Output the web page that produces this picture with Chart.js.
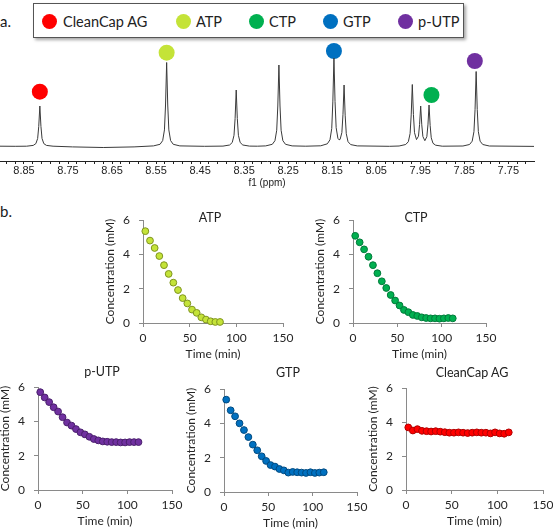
<!DOCTYPE html>
<html>
<head>
<meta charset="utf-8">
<script src="https://cdn.jsdelivr.net/npm/chart.js@4.4.0/dist/chart.umd.min.js"></script>
<style>
  html, body { margin: 0; padding: 0; background: #fff; }
  #fig { position: relative; width: 553px; height: 530px; overflow: hidden; font-family: 'Lato', sans-serif; color: #1a1a1a; }
  #fig canvas { position: absolute; }
  .lab { position: absolute; font-size: 15px; line-height: 1; }
  .ptitle { position: absolute; font-size: 12.5px; line-height: 1; transform: translate(-50%, -50%); white-space: nowrap; color: #222; }
  #legend { position: absolute; left: 33px; top: 3px; width: 429px; height: 33px; border: 1px solid #555; background: #fff; box-shadow: 2px 2px 3px rgba(0,0,0,0.35); }
  #legend .dot { position: absolute; width: 15px; height: 15px; border-radius: 50%; top: 10px; }
  #legend .txt { position: absolute; top: 10px; font-size: 14.5px; line-height: 15px; white-space: nowrap; color: #222; }
</style>
</head>
<body>
<div id="fig">
  <div class="lab" style="left:0px; top:14px;">a.</div>
  <div id="legend"></div>
  <canvas id="nmr" width="553" height="161" style="left:0px; top:30px;"></canvas>
  <div class="lab" style="left:0px; top:204px;">b.</div>
</div>

<script>
// ── DATA ──
const speciesNames  = ['CleanCap AG', 'ATP', 'CTP', 'GTP', 'p-UTP'];
const speciesColors = ['#ff0000', '#c4e338', '#00b050', '#0070c0', '#7030a0'];
const speciesEdges  = ['#b00000', '#7f9420', '#007a3a', '#004a80', '#4a1f6c'];

// 1H NMR spectrum (a.u.)
const spectrumPpm = [
  8.905, 8.870, 8.844, 8.829, 8.823, 8.819, 8.8165, 8.814, 8.8115, 8.809, 8.805, 8.799, 8.784,
  8.740, 8.670, 8.600,
  8.556, 8.541, 8.535, 8.531, 8.5285, 8.526, 8.5235, 8.521, 8.517, 8.511, 8.496, 8.440,
  8.398, 8.383, 8.377, 8.373, 8.3705, 8.368, 8.3655, 8.363, 8.359, 8.353, 8.338, 8.320,
  8.301, 8.286, 8.280, 8.276, 8.2735, 8.271, 8.2685, 8.266, 8.262, 8.256, 8.241, 8.210,
  8.176, 8.161, 8.155, 8.151, 8.1485, 8.146, 8.1435, 8.141, 8.137, 8.1345, 8.132, 8.128, 8.1255,
  8.123, 8.1205, 8.118, 8.114, 8.108, 8.093, 8.020,
  7.998, 7.983, 7.977, 7.973, 7.9705, 7.968, 7.9655, 7.963, 7.9585, 7.954, 7.9515, 7.949,
  7.9465, 7.944, 7.9395, 7.935, 7.9325, 7.930, 7.9275, 7.925, 7.921, 7.915, 7.900,
  7.853, 7.838, 7.832, 7.828, 7.8255, 7.823, 7.8205, 7.818, 7.814, 7.808, 7.793, 7.690
];
const spectrumIntensity = [
  0.3, 0.2, 0.3, 1.1, 2.9, 8, 20, 40.5, 20, 8, 2.9, 1.1, 0.3,
  -0.4, -1.0, -0.4,
  0.6, 2.2, 5.9, 16.6, 41.5, 84, 41.5, 16.6, 5.9, 2.2, 0.6, 0.2,
  0.4, 1.5, 4, 11.2, 28, 56.5, 28, 11.2, 4, 1.5, 0.4, 0.3,
  0.6, 2.2, 5.8, 16.2, 40.5, 81.5, 40.5, 16.2, 5.8, 2.2, 0.6, 0.3,
  0.7, 2.7, 6.7, 18, 44.6, 88.5, 45, 18.8, 8.2, 6.7, 7.1, 13.9, 31.8,
  61.5, 31.3, 12.8, 4.8, 1.9, 0.6, 0.2,
  0.5, 2, 4.8, 13, 31.6, 62, 32, 13.8, 6.9, 10.3, 21.9, 40.5,
  21.7, 10, 5.8, 9.8, 21.6, 41.5, 21, 8.7, 3.2, 1.3, 0.3,
  0.5, 2, 5.3, 14.8, 37, 75, 37, 14.8, 5.3, 2, 0.5, 0.1
];
// coloured peak markers (same order as speciesNames)
const markerPpm       = [8.814, 8.526, 7.9245, 8.146, 7.826];
const markerIntensity = [54.8, 93.8, 51.5, 95.5, 85.5];
const ppmLabels = [8.85, 8.75, 8.65, 8.55, 8.45, 8.35, 8.25, 8.15, 8.05, 7.95, 7.85, 7.75];

// b. kinetics, concentration (mM) vs time (min)
const timeMin = [2.5, 7.5, 12.5, 17.5, 22.5, 27.5, 32.5, 37.5, 42.5, 47.5, 52.5, 57.5,
                 62.5, 67.5, 72.5, 77.5, 82.5, 87.5, 92.5, 97.5, 102.5, 107.5, 112.5];
const atpConc = [5.35, 4.80, 4.37, 3.90, 3.37, 2.86, 2.35, 1.92, 1.45, 1.14, 0.78, 0.59, 0.33, 0.20, 0.10, 0.06, 0.06];
const ctpConc = [5.08, 4.70, 4.29, 3.86, 3.37, 2.90, 2.43, 2.04, 1.63, 1.31, 1.02, 0.76, 0.63, 0.47, 0.41, 0.33, 0.29, 0.27, 0.27, 0.25, 0.27, 0.29, 0.27];
const putpConc = [5.70, 5.39, 5.12, 4.82, 4.57, 4.24, 3.93, 3.75, 3.55, 3.36, 3.24, 3.10, 2.97, 2.89, 2.83, 2.81, 2.79, 2.79, 2.77, 2.77, 2.79, 2.79, 2.79];
const gtpConc = [5.38, 4.76, 4.41, 4.00, 3.61, 3.20, 2.76, 2.43, 2.08, 1.81, 1.57, 1.48, 1.34, 1.26, 1.13, 1.17, 1.15, 1.13, 1.11, 1.15, 1.11, 1.13, 1.15];
const cleancapConc = [3.68, 3.50, 3.58, 3.48, 3.46, 3.44, 3.46, 3.43, 3.40, 3.37, 3.37, 3.39, 3.37, 3.35, 3.37, 3.39, 3.37, 3.37, 3.33, 3.39, 3.33, 3.31, 3.39];
const timeTicks = [0, 50, 100, 150];
const concTicks = [0, 2, 4, 6];

const axisGray = '#8a8a8a';
const textColor = '#262626';

Chart.defaults.font.family = "'Lato', sans-serif";

// ── LEGEND (part a) ──
const legendDotX  = [8, 142, 215, 289, 364];   // left of dot, inside box
const legendTextX = [29, 162, 235, 309, 384];
const legend = document.getElementById('legend');
speciesNames.forEach((name, i) => {
  const dot = document.createElement('div');
  dot.className = 'dot';
  dot.style.left = legendDotX[i] + 'px';
  dot.style.background = speciesColors[i];
  legend.appendChild(dot);
  const txt = document.createElement('div');
  txt.className = 'txt';
  txt.style.left = legendTextX[i] + 'px';
  txt.textContent = name;
  legend.appendChild(txt);
});

// keep label overflow from nudging the plot area; layout.padding does that job
const noPadX = (s) => { s.paddingLeft = 0; s.paddingRight = 0; };
const noPadY = (s) => { s.paddingTop = 0; s.paddingBottom = 0; };

// ── NMR SPECTRUM ──
new Chart(document.getElementById('nmr'), {
  type: 'scatter',
  data: {
    datasets: [
      {
        label: 'spectrum',
        data: spectrumPpm.map((p, i) => ({ x: p, y: spectrumIntensity[i] })),
        showLine: true,
        borderColor: '#3a3a3a',
        borderWidth: 1,
        pointRadius: 0,
        tension: 0
      },
      {
        label: 'markers',
        data: markerPpm.map((p, i) => ({ x: p, y: markerIntensity[i] })),
        backgroundColor: speciesColors,
        borderWidth: 0,
        pointRadius: 8,
        clip: false
      }
    ]
  },
  options: {
    responsive: false,
    animation: false,
    devicePixelRatio: 1,
    layout: { autoPadding: false, padding: { left: 0, right: 19, top: 10, bottom: 0 } },
    plugins: { legend: { display: false }, tooltip: { enabled: false } },
    scales: {
      x: {
        type: 'linear',
        reverse: true,
        min: 7.6916,
        max: 8.9045,
        afterBuildTicks: (s) => {
          // minor marks every 0.02 ppm through the labelled ones
          const t = [];
          for (let k = -2; k <= 57; k++) t.push({ value: +(8.85 - k * 0.02).toFixed(2) });
          s.ticks = t;
        },
        afterFit: (s) => { s.height = 30; noPadX(s); },
        grid: { display: true, drawOnChartArea: false, drawTicks: true, tickLength: 3, color: '#222' },
        border: { display: true, color: '#222', width: 1 },
        ticks: {
          autoSkip: false,
          maxRotation: 0,
          padding: 0,
          color: '#222',
          font: { family: "'Liberation Sans', Arial, sans-serif", size: 11 },
          callback: (v) => ppmLabels.some(l => Math.abs(l - v) < 1e-6) ? Number(v).toFixed(2) : ''
        },
        title: {
          display: true,
          text: 'f1 (ppm)',
          color: '#222',
          font: { family: "'Liberation Sans', Arial, sans-serif", size: 10 },
          padding: { top: 0, bottom: 2 }
        }
      },
      y: { display: false, min: -14.5, max: 106.5 }
    }
  }
});

// ── KINETIC PANELS (part b) ──
function panel(title, conc, fill, edge, area, titlePos) {
  const yW = 40, xH = 40, padT = 10, padR = 14;
  const cv = document.createElement('canvas');
  cv.width = area.r - area.l + yW + padR;
  cv.height = area.b - area.t + padT + xH;
  cv.style.left = (area.l - yW) + 'px';
  cv.style.top = (area.t - padT) + 'px';
  const fig = document.getElementById('fig');
  fig.appendChild(cv);

  const tt = document.createElement('div');
  tt.className = 'ptitle';
  tt.style.left = titlePos.x + 'px';
  tt.style.top = titlePos.y + 'px';
  tt.textContent = title;
  fig.appendChild(tt);

  new Chart(cv, {
    type: 'scatter',
    data: {
      datasets: [{
        label: title,
        data: conc.map((c, i) => ({ x: timeMin[i], y: c })),
        backgroundColor: fill,
        borderColor: edge,
        borderWidth: 1,
        pointRadius: 3.4,
        clip: false
      }]
    },
    options: {
      responsive: false,
      animation: false,
      devicePixelRatio: 1,
      layout: { autoPadding: false, padding: { left: 0, right: padR, top: padT, bottom: 0 } },
      plugins: { legend: { display: false }, tooltip: { enabled: false } },
      scales: {
        x: {
          type: 'linear',
          min: 0, max: 150,
          afterBuildTicks: (s) => { s.ticks = timeTicks.map(v => ({ value: v })); },
          afterFit: (s) => { s.height = xH; noPadX(s); },
          grid: { display: true, drawOnChartArea: false, drawTicks: true, tickLength: 4, color: axisGray },
          border: { display: true, color: axisGray, width: 1 },
          ticks: { color: textColor, font: { size: 12 }, padding: 4, maxRotation: 0, autoSkip: false },
          title: { display: true, text: 'Time (min)', color: textColor, font: { size: 12 }, padding: { top: 0, bottom: 2 } }
        },
        y: {
          type: 'linear',
          min: 0, max: 6,
          afterBuildTicks: (s) => { s.ticks = concTicks.map(v => ({ value: v })); },
          afterFit: (s) => { s.width = yW; noPadY(s); },
          grid: { display: true, drawOnChartArea: false, drawTicks: true, tickLength: 4, color: axisGray },
          border: { display: true, color: axisGray, width: 1 },
          ticks: { color: textColor, font: { size: 12 }, padding: 9 },
          title: { display: true, text: 'Concentration (mM)', color: textColor, font: { size: 12 }, padding: { top: 0, bottom: 0 } }
        }
      }
    }
  });
}

panel('ATP', atpConc, speciesColors[1], speciesEdges[1], { l: 143, r: 283, t: 220, b: 323 }, { x: 210, y: 218 });
panel('CTP', ctpConc, speciesColors[2], speciesEdges[2], { l: 353, r: 486, t: 220, b: 323 }, { x: 416, y: 218 });
panel('p-UTP', putpConc, speciesColors[4], speciesEdges[4], { l: 38, r: 172, t: 387, b: 490 }, { x: 102, y: 372 });
panel('GTP', gtpConc, speciesColors[3], speciesEdges[3], { l: 224, r: 357, t: 389, b: 492 }, { x: 288, y: 373 });
panel('CleanCap AG', cleancapConc, speciesColors[0], speciesEdges[0], { l: 406, r: 543, t: 388, b: 490 }, { x: 472, y: 373 });
</script>
</body>
</html>
